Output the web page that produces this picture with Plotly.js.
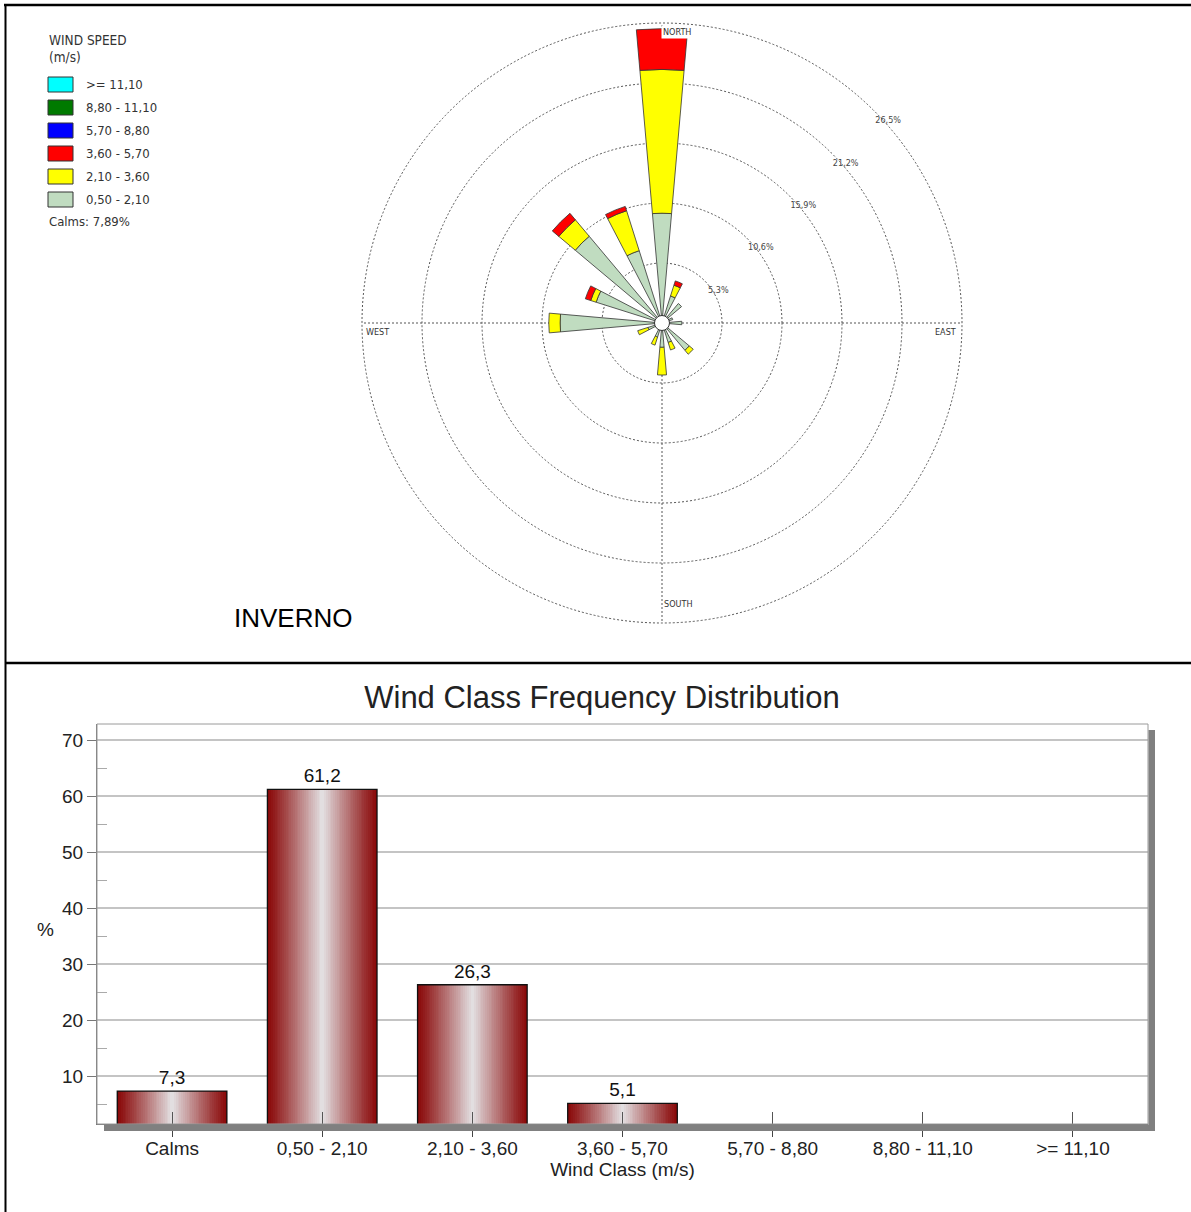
<!DOCTYPE html>
<html>
<head>
<meta charset="utf-8">
<script src="https://cdn.plot.ly/plotly-3.0.1.min.js"></script>
<style>html,body{margin:0;padding:0;background:#fff;}#chart{width:1191px;height:1212px;}</style>
</head>
<body>
<div id="chart"></div>
<script>
// ---------------- DATA ----------------
const directions = ['N','NNE','NE','ENE','E','ESE','SE','SSE','S','SSW','SW','WSW','W','WNW','NW','NNW'];
// percent frequency per direction and speed class (wind rose, stacked)
const speed050_210 = [9.7, 2.5, 2.25, 1.0, 1.75, 0.6, 3.15, 1.8, 2.15, 1.3, 0.6, 1.3, 9.0, 6.1, 10.0, 6.7];
const speed210_360 = [12.7, 1.0, null, null, null, null, 0.45, 0.7, 2.45, 0.75, null, 0.95, 1.0, 0.5, 1.9, 3.7];
const speed360_570 = [3.6, 0.4, null, null, null, null, null, null, null, null, null, null, null, 0.5, 0.75, 0.4];
const ringValues = [5.3, 10.6, 15.9, 21.2, 26.5];
const compassLabels = ['NORTH', 'EAST', 'SOUTH', 'WEST'];
const compassAngles = [0, 90, 180, 270];

const legendLabels = ['>= 11,10', '8,80 - 11,10', '5,70 - 8,80', '3,60 - 5,70', '2,10 - 3,60', '0,50 - 2,10'];
const legendColors = ['#00ffff', '#007a00', '#0000ff', '#ff0000', '#ffff00', '#c0dcc0'];
const calmsText = 'Calms: 7,89%';

const windClasses = ['Calms', '0,50 - 2,10', '2,10 - 3,60', '3,60 - 5,70', '5,70 - 8,80', '8,80 - 11,10', '>= 11,10'];
const classFreq = [7.3, 61.2, 26.3, 5.1, 0, 0, 0];
const yTicks = [10, 20, 30, 40, 50, 60, 70];
const yMinorTicks = [5, 15, 25, 35, 45, 55, 65];

// ---------------- HELPERS ----------------
const W = 1191, H = 1212;
const px = x => x / W;
const py = y => 1 - y / H;
const fmt = v => v.toFixed(1).replace('.', ',');
const NARROW = 'Liberation Sans Narrow, DejaVu Sans Condensed, Liberation Sans, Arial, sans-serif';
const ARIAL = 'Liberation Sans, Arial, sans-serif';

const dirAngles = directions.map((d, i) => i * 360 / directions.length);

// rose geometry (screen px): centre and radius of the outermost ring
const RC = {x: 662, y: 323}, RING_PX = 300;
const RLAST = ringValues[ringValues.length - 1];
const RMAX = 27.2;                                    // axis range slightly beyond last ring
const RMAX_PX = RING_PX * RMAX / RLAST;
const pxPerPct = RING_PX / RLAST;
// helper: place a label at a screen offset (dx right, dy down) from a polar point
function labelPos(rPct, thetaDeg, dx, dy) {
  const t = thetaDeg * Math.PI / 180;
  const x = rPct * pxPerPct * Math.sin(t) + dx;
  const y = -rPct * pxPerPct * Math.cos(t) + dy;
  const r = Math.sqrt(x * x + y * y) / pxPerPct;
  let th = Math.atan2(x, -y) * 180 / Math.PI;
  if (th < 0) th += 360;
  return [r, th];
}

const traces = [];
// ---- wind rose ----
const roseSeries = [
  {name: '0,50 - 2,10', r: speed050_210, color: '#c0dcc0'},
  {name: '2,10 - 3,60', r: speed210_360, color: '#ffff00'},
  {name: '3,60 - 5,70', r: speed360_570, color: '#ff0000'}
];
roseSeries.forEach(s => {
  traces.push({
    type: 'barpolar', subplot: 'polar', name: s.name,
    r: s.r, theta: dirAngles, width: 10,
    marker: {color: s.color, line: {color: '#333', width: 0.8}},
    hoverinfo: 'skip', showlegend: false
  });
});
traces.push({
  type: 'scatterpolar', subplot: 'polar', r: [0], theta: [0], mode: 'markers',
  marker: {size: 15, color: '#ffffff', line: {color: '#333', width: 1}},
  hoverinfo: 'skip', showlegend: false
});
const ringLab = ringValues.map(v => labelPos(v, 45, 14, 10));
traces.push({
  type: 'scatterpolar', subplot: 'polar', mode: 'text', cliponaxis: false,
  r: ringLab.map(p => p[0]), theta: ringLab.map(p => p[1]),
  text: ringValues.map(v => fmt(v) + '%'), textposition: 'middle center',
  textfont: {family: NARROW, size: 9, color: '#444'},
  hoverinfo: 'skip', showlegend: false
});

// ---- bar chart (gradient approximated by nested bars) ----
const BAR_W = 0.73, NL = 30;
const edge = [138, 10, 10], center = [226, 222, 224];
for (let k = 0; k < NL; k++) {
  const t = k / (NL - 1);
  const f = Math.pow(t, 1.1);
  const c = edge.map((e, i) => Math.round(e + (center[i] - e) * f));
  traces.push({
    type: 'bar', x: windClasses, y: classFreq, xaxis: 'x', yaxis: 'y',
    width: BAR_W * (1 - k / NL),
    marker: {color: `rgb(${c[0]},${c[1]},${c[2]})`, line: {width: 0}},
    hoverinfo: 'skip', showlegend: false
  });
}
traces.push({
  type: 'bar', x: windClasses, y: classFreq, xaxis: 'x', yaxis: 'y', width: BAR_W,
  marker: {color: 'rgba(0,0,0,0)', line: {color: '#111', width: 1.3}},
  text: classFreq.map(v => v > 0 ? fmt(v) : ''), textposition: 'outside', cliponaxis: false,
  textfont: {family: ARIAL, size: 19, color: '#111'},
  hoverinfo: 'skip', showlegend: false
});
traces.push({
  type: 'scatter', x: windClasses, y: classFreq.map(() => null), xaxis: 'x2', yaxis: 'y',
  mode: 'markers', hoverinfo: 'skip', showlegend: false
});

// ---------------- LAYOUT ----------------
const shapes = [
  // outer frame lines
  {type: 'line', xref: 'paper', yref: 'paper', x0: px(4), x1: 1, y0: py(5), y1: py(5), line: {color: '#000', width: 2.5}},
  {type: 'line', xref: 'paper', yref: 'paper', x0: px(5.5), x1: px(5.5), y0: py(4), y1: 0, line: {color: '#000', width: 2}},
  {type: 'line', xref: 'paper', yref: 'paper', x0: px(5), x1: 1, y0: py(663), y1: py(663), line: {color: '#000', width: 2.5}},
  // plot frame + shadow
  {type: 'rect', xref: 'x domain', yref: 'y domain', x0: 0, x1: 1, y0: 0, y1: 1, line: {color: '#9a9a9a', width: 1}, layer: 'above'},
  {type: 'rect', xref: 'x domain', yref: 'y domain', x0: 1 + 0.5 / 1051, x1: 1 + 7 / 1051, y0: -7 / 400, y1: 1 - 6 / 400, fillcolor: '#808080', line: {width: 0}},
  {type: 'rect', xref: 'x domain', yref: 'y domain', x0: 7 / 1051, x1: 1 + 7 / 1051, y0: -7 / 400, y1: -0.5 / 400, fillcolor: '#808080', line: {width: 0}}
];
const annotations = [
  {xref: 'paper', yref: 'paper', x: px(47), y: py(40), xanchor: 'left', yanchor: 'middle', text: 'WIND SPEED', showarrow: false, font: {family: NARROW, size: 13.5, color: '#333'}},
  {xref: 'paper', yref: 'paper', x: px(47), y: py(57), xanchor: 'left', yanchor: 'middle', text: '(m/s)', showarrow: false, font: {family: NARROW, size: 13.5, color: '#333'}},
  {xref: 'paper', yref: 'paper', x: px(47), y: py(221), xanchor: 'left', yanchor: 'middle', text: calmsText, showarrow: false, font: {family: NARROW, size: 13, color: '#333'}},
  {xref: 'paper', yref: 'paper', x: px(232), y: py(618), xanchor: 'left', yanchor: 'middle', text: 'INVERNO', showarrow: false, font: {family: ARIAL, size: 26, color: '#000'}},
  {xref: 'paper', yref: 'paper', x: px(45), y: py(929), xanchor: 'center', yanchor: 'middle', text: '%', showarrow: false, font: {family: ARIAL, size: 19, color: '#222'}}
];
// compass labels (offset from ring/axis crossing, NORTH on a white box as in the original)
const compOff = [[15, 9], [-17, 9], [16, -19], [15, 9]];
compassLabels.forEach((lab, i) => {
  const t = compassAngles[i] * Math.PI / 180;
  const cx = RC.x + RING_PX * Math.sin(t) + compOff[i][0];
  const cy = RC.y - RING_PX * Math.cos(t) + compOff[i][1];
  annotations.push({xref: 'paper', yref: 'paper', x: px(cx), y: py(cy), xanchor: 'center', yanchor: 'middle',
    text: lab, showarrow: false, font: {family: NARROW, size: 9, color: '#333'},
    bgcolor: i === 0 ? '#ffffff' : 'rgba(0,0,0,0)', borderpad: 1});
});
legendLabels.forEach((lab, i) => {
  const yc = 84.5 + 23 * i;
  shapes.push({type: 'rect', xref: 'paper', yref: 'paper', x0: px(48), x1: px(73), y0: py(yc + 7.5), y1: py(yc - 7.5),
    fillcolor: legendColors[i], line: {color: '#333', width: 1}});
  annotations.push({xref: 'paper', yref: 'paper', x: px(84), y: py(yc), xanchor: 'left', yanchor: 'middle', text: lab,
    showarrow: false, font: {family: NARROW, size: 13, color: '#333'}});
});

const layout = {
  width: W, height: H, margin: {l: 0, r: 0, t: 0, b: 0, pad: 0},
  paper_bgcolor: '#fff', plot_bgcolor: '#fff', showlegend: false, separators: ',.',
  font: {family: ARIAL, color: '#222'},
  barmode: 'overlay', bargap: 0,
  title: {text: 'Wind Class Frequency Distribution', font: {family: ARIAL, size: 31, color: '#222'},
    x: 602 / W, xanchor: 'center', xref: 'paper', y: py(697), yanchor: 'middle', yref: 'paper'},
  polar: {
    domain: {x: [px(RC.x - RMAX_PX), px(RC.x + RMAX_PX)], y: [py(RC.y + RMAX_PX), py(RC.y - RMAX_PX)]},
    bgcolor: 'rgba(0,0,0,0)', barmode: 'stack',
    radialaxis: {range: [0, RMAX], tickvals: ringValues, showticklabels: false, ticks: '', showline: false,
      gridcolor: '#555', griddash: '2px,2px', gridwidth: 1},
    angularaxis: {rotation: 90, direction: 'clockwise', tickvals: compassAngles, showticklabels: false, ticks: '',
      showgrid: false, showline: false}
  },
  xaxis: {
    domain: [px(97), px(1148)], anchor: 'y', type: 'category', categoryorder: 'array', categoryarray: windClasses,
    range: [-0.5, 6.5], ticks: 'outside', ticklen: 12, tickcolor: '#444', tickwidth: 1, ticklabelstandoff: -5,
    showline: true, linecolor: '#777', linewidth: 1, showgrid: false, zeroline: false,
    tickfont: {family: ARIAL, size: 19, color: '#222'},
    title: {text: 'Wind Class (m/s)', font: {family: ARIAL, size: 19, color: '#222'}, standoff: 0}
  },
  xaxis2: {
    overlaying: 'x', anchor: 'y', type: 'category', categoryorder: 'array', categoryarray: windClasses,
    range: [-0.5, 6.5], ticks: 'inside', ticklen: 12, tickcolor: '#555', tickwidth: 1,
    showticklabels: false, showgrid: false, showline: false, zeroline: false
  },
  yaxis: {
    domain: [py(1124), py(724)], anchor: 'x', range: [1.43, 72.86], tickvals: yTicks,
    ticks: 'outside', ticklen: 9, tickcolor: '#777', tickwidth: 1,
    showline: true, linecolor: '#777', linewidth: 1, zeroline: false,
    gridcolor: '#c4c4c4', gridwidth: 1.5,
    tickfont: {family: ARIAL, size: 19, color: '#222'},
    minor: {tickvals: yMinorTicks, ticks: 'inside', ticklen: 10, tickcolor: '#aaa', showgrid: false}
  },
  shapes: shapes, annotations: annotations
};

// the four compass axis lines of the rose span exactly the outer ring
compassAngles.forEach(a => {
  const t = a * Math.PI / 180;
  shapes.push({type: 'line', xref: 'paper', yref: 'paper', layer: 'below',
    x0: px(RC.x), y0: py(RC.y), x1: px(RC.x + RING_PX * Math.sin(t)), y1: py(RC.y - RING_PX * Math.cos(t)),
    line: {color: '#555', width: 1, dash: '2px,2px'}});
});

Plotly.newPlot('chart', traces, layout, {staticPlot: true, displayModeBar: false});
</script>
</body>
</html>
